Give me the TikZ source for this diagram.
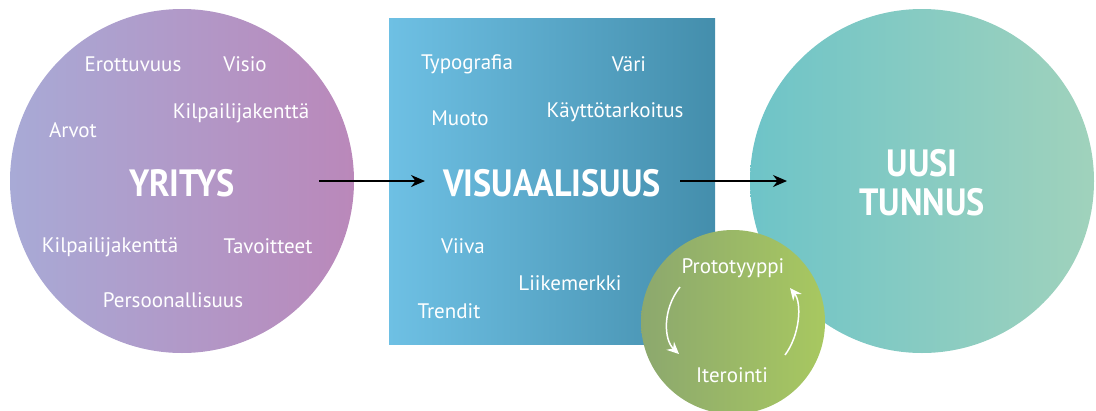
\documentclass[tikz,border=0pt]{standalone}
\usepackage{fontspec}
\setmainfont{PT Sans}
\newfontfamily\headfont[FakeStretch=0.9]{PT Sans}
\usetikzlibrary{arrows.meta}
\definecolor{yL}{RGB}{168,170,214}
\definecolor{yR}{RGB}{186,136,186}
\definecolor{vL}{RGB}{110,192,228}
\definecolor{vR}{RGB}{68,142,172}
\definecolor{uL}{RGB}{110,196,200}
\definecolor{uR}{RGB}{160,210,188}
\definecolor{gL}{RGB}{140,168,110}
\definecolor{gR}{RGB}{168,200,96}
\tikzset{
  lbl/.style={text=white, font=\fontsize{21}{24}\selectfont, inner sep=0pt},
  head/.style={text=white, font=\headfont\fontsize{38}{43}\selectfont\bfseries, inner sep=0pt, align=center},
  bigcirc/.style={circle, minimum size=344pt, inner sep=0pt},
  flow/.style={line width=1.5pt, -{Stealth[length=14pt,width=12pt]}},
  cyc/.style={white, line width=1.5pt, -{Stealth[length=12pt,width=11pt,inset=4pt]}}
}
\begin{document}
\begin{tikzpicture}[x=1pt,y=-1pt]
\useasboundingbox (0,0) rectangle (1096,410);
% shapes
\node[bigcirc, left color=yL, right color=yR] (yc) at (182,181) {};
\node[rectangle, minimum width=326pt, minimum height=326pt, inner sep=0pt, left color=vL, right color=vR] (sq) at (552,181) {};
\node[bigcirc, left color=uL, right color=uR] (uc) at (922,181) {};
\node[circle, minimum size=184pt, inner sep=0pt, left color=gL, right color=gR] (gc) at (733,322) {};
% left circle texts
\node[lbl] (t1) at (133,64) {Erottuvuus};
\node[lbl] (t2) at (245,64) {Visio};
\node[lbl] (t3) at (241,113) {Kilpailijakenttä};
\node[lbl] (t4) at (73,130) {Arvot};
\node[head] (yr) at (182,183) {YRITYS};
\node[lbl] (t5) at (110,247) {Kilpailijakenttä};
\node[lbl] (t6) at (268,246) {Tavoitteet};
\node[lbl] (t7) at (173,300) {Persoonallisuus};
% square texts
\node[lbl] (s1) at (467,64) {Typografia};
\node[lbl] (s2) at (629,64) {Väri};
\node[lbl] (s3) at (615,112) {Käyttötarkoitus};
\node[lbl] (s4) at (460,118) {Muoto};
\node[head] (vi) at (552,183) {VISUAALISUUS};
\node[lbl] (s5) at (463,246) {Viiva};
\node[lbl] (s6) at (570,283) {Liikemerkki};
\node[lbl] (s7) at (449,311) {Trendit};
% green circle
\node[lbl] (g1) at (733,268) {Prototyyppi};
\node[lbl] (g2) at (732,375) {Iterointi};
% right circle
\node[head] (uu) at (922,183) {UUSI\\[-4pt]TUNNUS};
% arrows
\coordinate (a1s) at (319,181);
\coordinate (a1e) at (425,181);
\coordinate (a2s) at (680,181);
\coordinate (a2e) at (787,181);
\draw[flow] (a1s) -- (a1e);
\draw[flow] (a2s) -- (a2e);
% cycle arrows
\coordinate (c1s) at (680,287);
\coordinate (c1e) at (679,354);
\coordinate (c2s) at (785,355);
\coordinate (c2e) at (790,288);
\draw[cyc] (c1s) .. controls (662,310) and (664,340) .. (c1e);
\draw[cyc] (c2s) .. controls (800,335) and (802,303) .. (c2e);
\end{tikzpicture}
\end{document}
